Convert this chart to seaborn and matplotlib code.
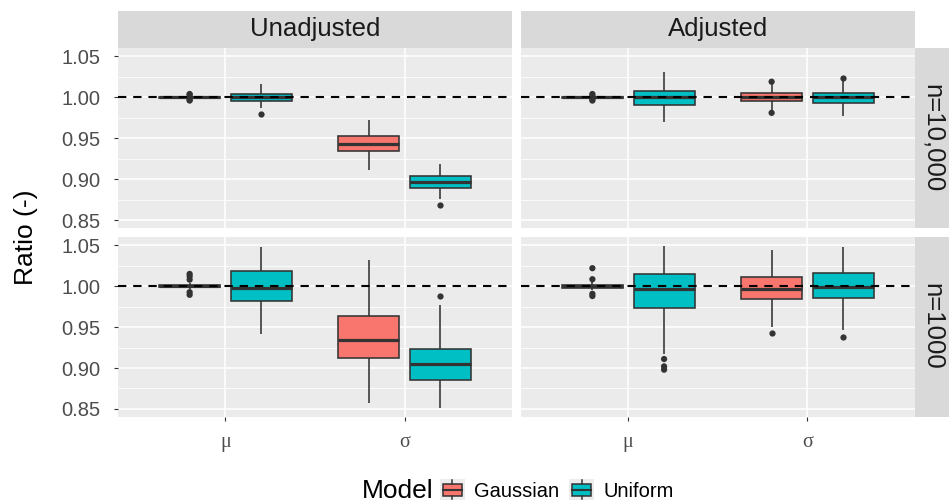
import numpy as np
import pandas as pd
import matplotlib
matplotlib.use("Agg")
import matplotlib.pyplot as plt
import seaborn as sns
from matplotlib.patches import Rectangle, Patch
from matplotlib.lines import Line2D
from matplotlib.legend_handler import HandlerBase

# ---------------- data ----------------
sample_sizes = ["n=10,000", "n=1000"]
adjustments = ["Unadjusted", "Adjusted"]
params = ["μ", "σ"]
models = ["Gaussian", "Uniform"]
model_colors = ["#F8766D", "#00BFC4"]

box_n = ["n=10,000", "n=10,000", "n=10,000", "n=10,000",
         "n=10,000", "n=10,000", "n=10,000", "n=10,000",
         "n=1000", "n=1000", "n=1000", "n=1000",
         "n=1000", "n=1000", "n=1000", "n=1000"]
box_adj = ["Unadjusted", "Unadjusted", "Unadjusted", "Unadjusted",
           "Adjusted", "Adjusted", "Adjusted", "Adjusted",
           "Unadjusted", "Unadjusted", "Unadjusted", "Unadjusted",
           "Adjusted", "Adjusted", "Adjusted", "Adjusted"]
box_param = ["μ", "μ", "σ", "σ", "μ", "μ", "σ", "σ",
             "μ", "μ", "σ", "σ", "μ", "μ", "σ", "σ"]
box_model = ["Gaussian", "Uniform", "Gaussian", "Uniform",
             "Gaussian", "Uniform", "Gaussian", "Uniform",
             "Gaussian", "Uniform", "Gaussian", "Uniform",
             "Gaussian", "Uniform", "Gaussian", "Uniform"]

whisker_low = [0.9985, 0.9865, 0.9110, 0.8754, 0.9985, 0.9700, 0.9840, 0.9775,
               0.9960, 0.9415, 0.8570, 0.8510, 0.9950, 0.9167, 0.9500, 0.9460]
quart1 = [0.9995, 0.9955, 0.9350, 0.8897, 0.9995, 0.9902, 0.9958, 0.9930,
          0.9985, 0.9822, 0.9120, 0.8850, 0.9980, 0.9736, 0.9846, 0.9850]
medians = [1.0000, 1.0000, 0.9436, 0.8966, 1.0000, 1.0000, 1.0005, 1.0000,
           1.0000, 0.9980, 0.9340, 0.9045, 1.0000, 0.9963, 0.9970, 0.9988]
quart3 = [1.0005, 1.0040, 0.9522, 0.9036, 1.0005, 1.0081, 1.0049, 1.0056,
          1.0015, 1.0180, 0.9630, 0.9236, 1.0020, 1.0150, 1.0110, 1.0163]
whisker_high = [1.0015, 1.0163, 0.9718, 0.9183, 1.0015, 1.0314, 1.0160, 1.0200,
                1.0040, 1.0476, 1.0326, 0.9770, 1.0050, 1.0488, 1.0444, 1.0484]

out_n = ["n=10,000"] * 4 + ["n=10,000"] * 2 + ["n=10,000"] * 4 + ["n=10,000"] * 3 \
    + ["n=1000"] * 6 + ["n=1000"] * 9
out_adj = ["Unadjusted"] * 6 + ["Adjusted"] * 7 + ["Unadjusted"] * 6 + ["Adjusted"] * 9
out_param = ["μ", "μ", "μ", "μ", "μ", "σ",
             "μ", "μ", "μ", "μ", "σ", "σ", "σ",
             "μ", "μ", "μ", "μ", "μ", "σ",
             "μ", "μ", "μ", "μ", "μ", "μ", "μ", "σ", "σ"]
out_model = ["Gaussian", "Gaussian", "Gaussian", "Gaussian", "Uniform", "Uniform",
             "Gaussian", "Gaussian", "Gaussian", "Gaussian", "Gaussian", "Gaussian", "Uniform",
             "Gaussian", "Gaussian", "Gaussian", "Gaussian", "Gaussian", "Uniform",
             "Gaussian", "Gaussian", "Gaussian", "Gaussian", "Uniform", "Uniform", "Uniform",
             "Gaussian", "Uniform"]
out_value = [1.0040, 1.0030, 0.9970, 0.9960, 0.9800, 0.8680,
             1.0040, 1.0020, 0.9975, 0.9960, 1.0190, 0.9810, 1.0236,
             1.0150, 1.0120, 1.0080, 0.9927, 0.9895, 0.9880,
             1.0220, 1.0085, 0.9907, 0.9880, 0.9110, 0.9020, 0.8980,
             0.9427, 0.9380]

y_ticks = [0.85, 0.90, 0.95, 1.00, 1.05]
y_minor = [0.875, 0.925, 0.975, 1.025]
reference_value = 1.0

# ---------------- tables ----------------
rows = []
for i in range(len(box_n)):
    for v in (whisker_low[i], quart1[i], medians[i], quart3[i], whisker_high[i]):
        rows.append(dict(n=box_n[i], adj=box_adj[i], param=box_param[i],
                         model=box_model[i], value=v))
box_df = pd.DataFrame(rows)
out_df = pd.DataFrame(dict(n=out_n, adj=out_adj, param=out_param,
                           model=out_model, value=out_value))

# ---------------- style ----------------
plt.rcParams["font.family"] = ["Liberation Sans", "DejaVu Sans"]
W, H = 949, 503
fig = plt.figure(figsize=(W / 100, H / 100), dpi=100)
fig.patch.set_facecolor("white")

def fx(px):
    return px / W

def fy(py):
    return 1 - py / H

col_x = [(118, 512), (520.7, 915)]
row_y = [(47.7, 228), (236.7, 416.7)]
palette = dict(zip(models, model_colors))
dark = "#333333"

for r, n in enumerate(sample_sizes):
    for c, adj in enumerate(adjustments):
        x0, x1 = col_x[c]
        y0, y1 = row_y[r]
        ax = fig.add_axes([fx(x0), fy(y1), fx(x1 - x0), (y1 - y0) / H])
        sub = box_df[(box_df.n == n) & (box_df.adj == adj)]
        sns.boxplot(data=sub, x="param", y="value", hue="model",
                    order=params, hue_order=models, palette=palette,
                    saturation=1, width=0.8, gap=0.15, whis=(0, 100),
                    showfliers=False, showcaps=False, linecolor=dark,
                    linewidth=1.15, medianprops=dict(linewidth=2.3, color=dark),
                    legend=False, ax=ax)
        osub = out_df[(out_df.n == n) & (out_df.adj == adj)]
        sns.stripplot(data=osub, x="param", y="value", hue="model",
                      order=params, hue_order=models,
                      palette={m: dark for m in models}, dodge=True,
                      jitter=False, size=4.5, linewidth=0, legend=False,
                      zorder=4, ax=ax)
        ax.axhline(reference_value, color="black", lw=1.5,
                   ls=(0, (4, 3.3)), zorder=5)

        ax.set_facecolor("#EBEBEB")
        for s in ax.spines.values():
            s.set_visible(False)
        ax.set_xlim(-0.6, 1.6)
        ax.set_ylim(0.8405, 1.0605)
        ax.set_yticks(y_ticks)
        ax.set_yticks(y_minor, minor=True)
        ax.set_xticks(range(len(params)))
        ax.set_axisbelow(True)
        ax.grid(which="major", color="white", lw=1.1)
        ax.grid(which="minor", axis="y", color="white", lw=0.55)
        ax.tick_params(which="minor", length=0)
        ax.tick_params(which="major", length=4 / 1.389, width=0.8, color=dark)
        ax.set_xlabel("")
        ax.set_ylabel("")
        if c == 0:
            ax.set_yticklabels([f"{t:.2f}" for t in y_ticks])
            ax.tick_params(axis="y", labelsize=14.5, labelcolor="#4D4D4D", pad=9.5)
        else:
            ax.tick_params(axis="y", length=0, labelleft=False)
        if r == 1:
            ax.set_xticklabels(params, fontfamily=["Liberation Serif", "DejaVu Serif"])
            ax.tick_params(axis="x", labelsize=14.5, labelcolor="#4D4D4D", pad=9)
        else:
            ax.tick_params(axis="x", length=0, labelbottom=False)

# ---------------- strips ----------------
strip_bg = "#D9D9D9"
for c, adj in enumerate(adjustments):
    x0, x1 = col_x[c]
    fig.add_artist(Rectangle((fx(x0), fy(47.7)), fx(x1 - x0), (47.7 - 11) / H,
                             transform=fig.transFigure, facecolor=strip_bg,
                             edgecolor="none"))
    fig.text(fx((x0 + x1) / 2), fy(29.3), adj, ha="center", va="center",
             fontsize=18.5, color="#1A1A1A")
for r, n in enumerate(sample_sizes):
    y0, y1 = row_y[r]
    fig.add_artist(Rectangle((fx(915), fy(y1)), fx(34), (y1 - y0) / H,
                             transform=fig.transFigure, facecolor=strip_bg,
                             edgecolor="none"))
    fig.text(fx(932.5), fy((y0 + y1) / 2), n, ha="center", va="center",
             rotation=270, fontsize=18.5, color="#1A1A1A")

# ---------------- axis title ----------------
fig.text(fx(26), fy(237), "Ratio (-)", rotation=90, ha="center", va="center",
         fontsize=19, color="black")

# ---------------- legend ----------------
class BoxKeyHandler(HandlerBase):
    def create_artists(self, legend, orig_handle, xdescent, ydescent,
                       width, height, fontsize, trans):
        x0, y0 = -xdescent, -ydescent
        bg = Rectangle((x0, y0), width, height, facecolor="#EDEDED",
                       edgecolor="none", transform=trans)
        bx = Rectangle((x0 + 0.12 * width, y0 + 0.22 * height), 0.76 * width,
                       0.56 * height, facecolor=orig_handle.get_facecolor(),
                       edgecolor=dark, lw=1.1, transform=trans)
        med = Line2D([x0 + 0.12 * width, x0 + 0.88 * width],
                     [y0 + 0.5 * height] * 2, color=dark, lw=1.5, transform=trans)
        w1 = Line2D([x0 + 0.5 * width] * 2, [y0 + 0.04 * height, y0 + 0.22 * height],
                    color=dark, lw=1.1, transform=trans)
        w2 = Line2D([x0 + 0.5 * width] * 2, [y0 + 0.78 * height, y0 + 0.96 * height],
                    color=dark, lw=1.1, transform=trans)
        return [bg, bx, med, w1, w2]

handles = [Patch(facecolor=col, edgecolor=dark, label=m)
           for m, col in zip(models, model_colors)]
fig.legend(handles=handles, labels=models, handler_map={Patch: BoxKeyHandler()},
           ncol=2, loc="center left", bbox_to_anchor=(fx(440), fy(490)),
           frameon=False, fontsize=14.5, handlelength=1.24, handleheight=1.2,
           handletextpad=0.45, columnspacing=0.5, borderpad=0, borderaxespad=0)
fig.text(fx(361.7), fy(498.3), "Model", ha="left", va="baseline",
         fontsize=19, color="black")

fig.savefig("out.png", dpi=100)
